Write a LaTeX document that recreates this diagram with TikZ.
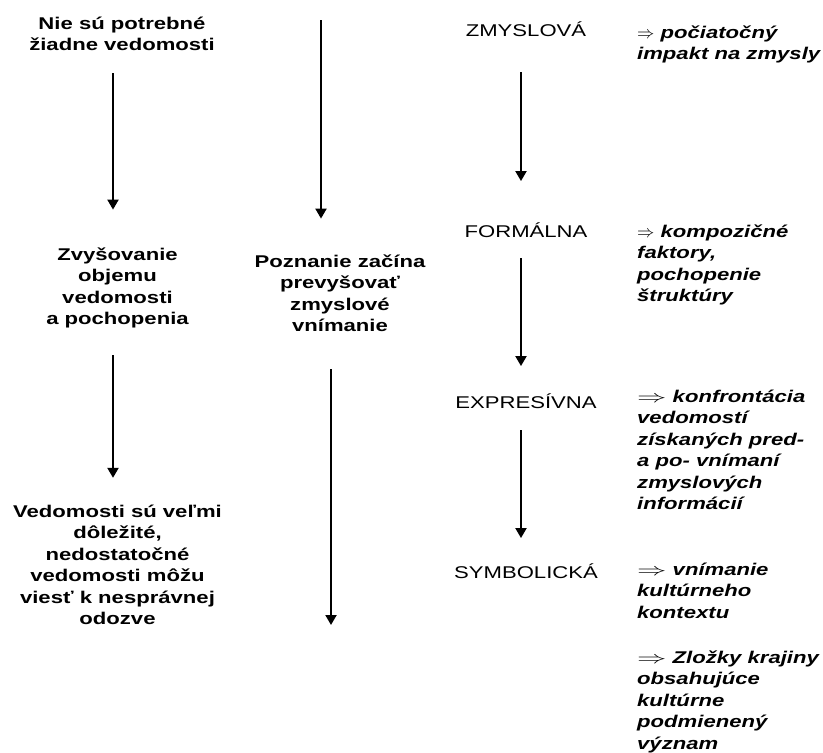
\documentclass[tikz,border=0pt]{standalone}
\usepackage{fontspec}
\setmainfont{Liberation Sans}[FakeStretch=1.3]
\usepackage{graphicx}
\usepackage{tikz}
\usetikzlibrary{arrows.meta}
\newcommand{\widearrow}{\scalebox{1.7}[1]{$\Rightarrow$}}

\begin{document}
\begin{tikzpicture}[
  x=1pt,y=-1pt,
  every node/.style={inner sep=0pt,font=\fontsize{17}{21.5}\selectfont},
  stage/.style={font=\fontsize{17}{21.5}\selectfont\bfseries,align=center,anchor=base},
  level/.style={anchor=base},
  note/.style={font=\fontsize{17}{21.5}\selectfont\bfseries\itshape,align=left,anchor=base west},
  arr/.style={-{Triangle[width=11pt,length=10pt]},line width=2pt}
]
\useasboundingbox (0,0) rectangle (823,753);
\node[stage] (none) at (122,50.5) {Nie sú potrebné\\žiadne vedomosti};
\node[stage] (grow) at (117.5,324.5) {Zvyšovanie\\objemu\\vedomosti\\a pochopenia};
\node[stage] (crucial) at (117.5,624.5) {Vedomosti sú veľmi\\dôležité,\\nedostatočné\\vedomosti môžu\\viesť k nesprávnej\\odozve};
\node[stage] (exceed) at (340,331.5) {Poznanie začína\\prevyšovať\\zmyslové\\vnímanie};

\node[level] (sens) at (526,36) {ZMYSLOVÁ};
\node[level] (form) at (526,237) {FORMÁLNA};
\node[level] (expr) at (526,408) {EXPRESÍVNA};
\node[level] (symb) at (526,578) {SYMBOLICKÁ};

\node[note] (sensnote) at (637,59.5) {$\Rightarrow$ počiatočný\\impakt na zmysly};
\node[note] (formnote) at (637,301.5) {$\Rightarrow$ kompozičné\\faktory,\\pochopenie\\štruktúry};
\node[note] (exprnote) at (637,509.5) {\widearrow{} konfrontácia\\vedomostí\\získaných pred-\\a po- vnímaní\\zmyslových\\informácií};
\node[note] (symbnote) at (637,618) {\widearrow{} vnímanie\\kultúrneho\\kontextu};
\node[note] (landnote) at (637,749) {\widearrow{} Zložky krajiny\\obsahujúce\\kultúrne\\podmienený\\význam};

\coordinate (leftaxis) at (113,0);
\coordinate (rightaxis) at (521,0);
\coordinate (exceedtop) at (321,20);
\coordinate (exceedbot) at (331,625);

\draw[arr,shorten <=22.5pt,shorten >=37.5pt] (none.south -| leftaxis) -- (grow.north -| leftaxis);
\draw[arr,shorten <=27pt,shorten >=26.5pt] (grow.south -| leftaxis) -- (crucial.north -| leftaxis);
\draw[arr,shorten >=35.5pt] (exceedtop) -- (exceed.north -| exceedtop);
\draw[arr,shorten <=37.5pt] (exceed.south -| exceedbot) -- (exceedbot);
\draw[arr,shorten <=36pt,shorten >=41pt] (sens.south -| rightaxis) -- (form.north -| rightaxis);
\draw[arr,shorten <=21pt,shorten >=27pt] (form.south -| rightaxis) -- (expr.north -| rightaxis);
\draw[arr,shorten <=22pt,shorten >=25pt] (expr.south -| rightaxis) -- (symb.north -| rightaxis);
\end{tikzpicture}
\end{document}
